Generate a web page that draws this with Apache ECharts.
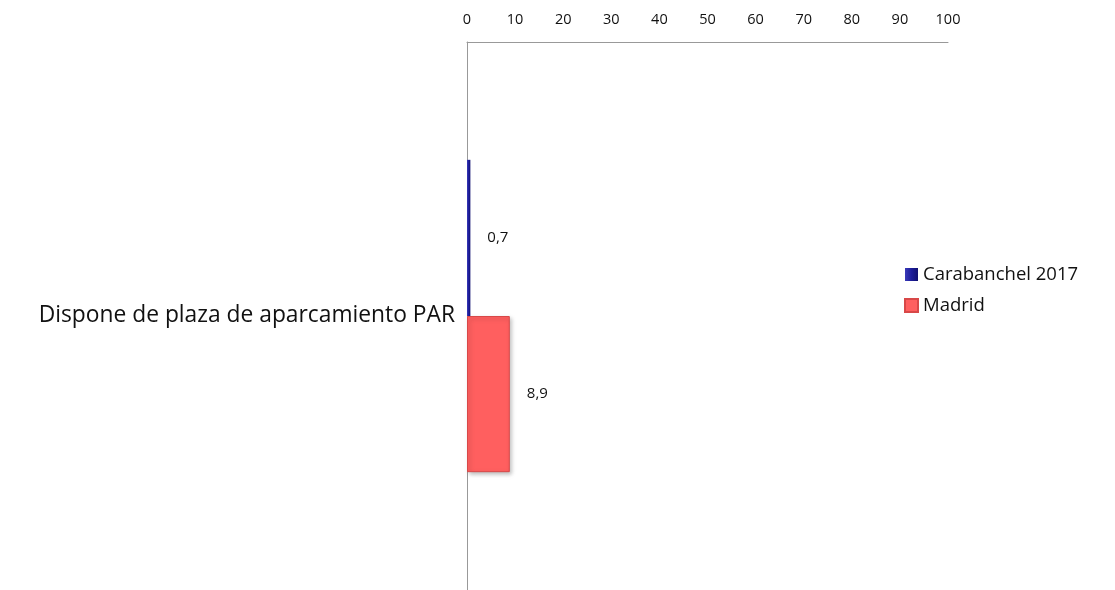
<!DOCTYPE html>
<html><head><meta charset="utf-8">
<script src="https://cdn.jsdelivr.net/npm/echarts@6/dist/echarts.min.js"></script>
<style>html,body{margin:0;padding:0;background:#fff}#c{width:1115px;height:590px}</style>
</head><body><div id="c"></div>
<script>
const categories = ['Dispone de plaza de aparcamiento PAR'];
const seriesNames = ['Carabanchel 2017', 'Madrid'];
const carabanchel = [0.7];
const madrid = [8.9];
const xTicks = {min: 0, max: 100, interval: 10};

const FONT = '"Open Sans", "Liberation Sans", sans-serif';
const fmt = p => String(p.value).replace('.', ',');
const chart = echarts.init(document.getElementById('c'));
chart.setOption({
  animation: false,
  textStyle: {fontFamily: FONT},
  grid: {left: 467, right: 167, top: 42, bottom: 0, containLabel: false},
  legend: {
    orient: 'vertical', left: 899, top: 260, itemWidth: 13, itemHeight: 13, itemGap: 12, icon: 'rect',
    textStyle: {fontSize: 18.5, color: '#111', fontFamily: FONT},
    data: seriesNames
  },
  xAxis: {
    type: 'value', position: 'top', min: xTicks.min, max: xTicks.max, interval: xTicks.interval,
    axisLine: {show: true, lineStyle: {color: '#999'}}, axisTick: {show: false},
    splitLine: {show: false},
    axisLabel: {color: '#111', fontSize: 14.5, margin: 15}
  },
  yAxis: {
    type: 'category', data: categories, inverse: true,
    axisLine: {show: true, lineStyle: {color: '#999'}}, axisTick: {show: false},
    axisLabel: {color: '#111', fontSize: 22.8, margin: 12}
  },
  series: [
    {
      name: seriesNames[0], type: 'bar', data: carabanchel, barGap: '0%', barCategoryGap: '43%',
      itemStyle: {color: new echarts.graphic.LinearGradient(0,0,1,0,[{offset:0,color:'#3a3ab8'},{offset:0.5,color:'#1c1c9a'},{offset:1,color:'#101070'}])},
      label: {show: true, position: 'right', distance: 17, formatter: fmt, color: '#111', fontSize: 15}
    },
    {
      name: seriesNames[1], type: 'bar', data: madrid,
      itemStyle: {color: '#ff5f5f', borderColor: '#d84848', borderWidth: 1, shadowColor: 'rgba(0,0,0,0.25)', shadowBlur: 4, shadowOffsetX: 2, shadowOffsetY: 2},
      label: {show: true, position: 'right', distance: 17, formatter: fmt, color: '#111', fontSize: 15}
    }
  ]
});
</script></body></html>
